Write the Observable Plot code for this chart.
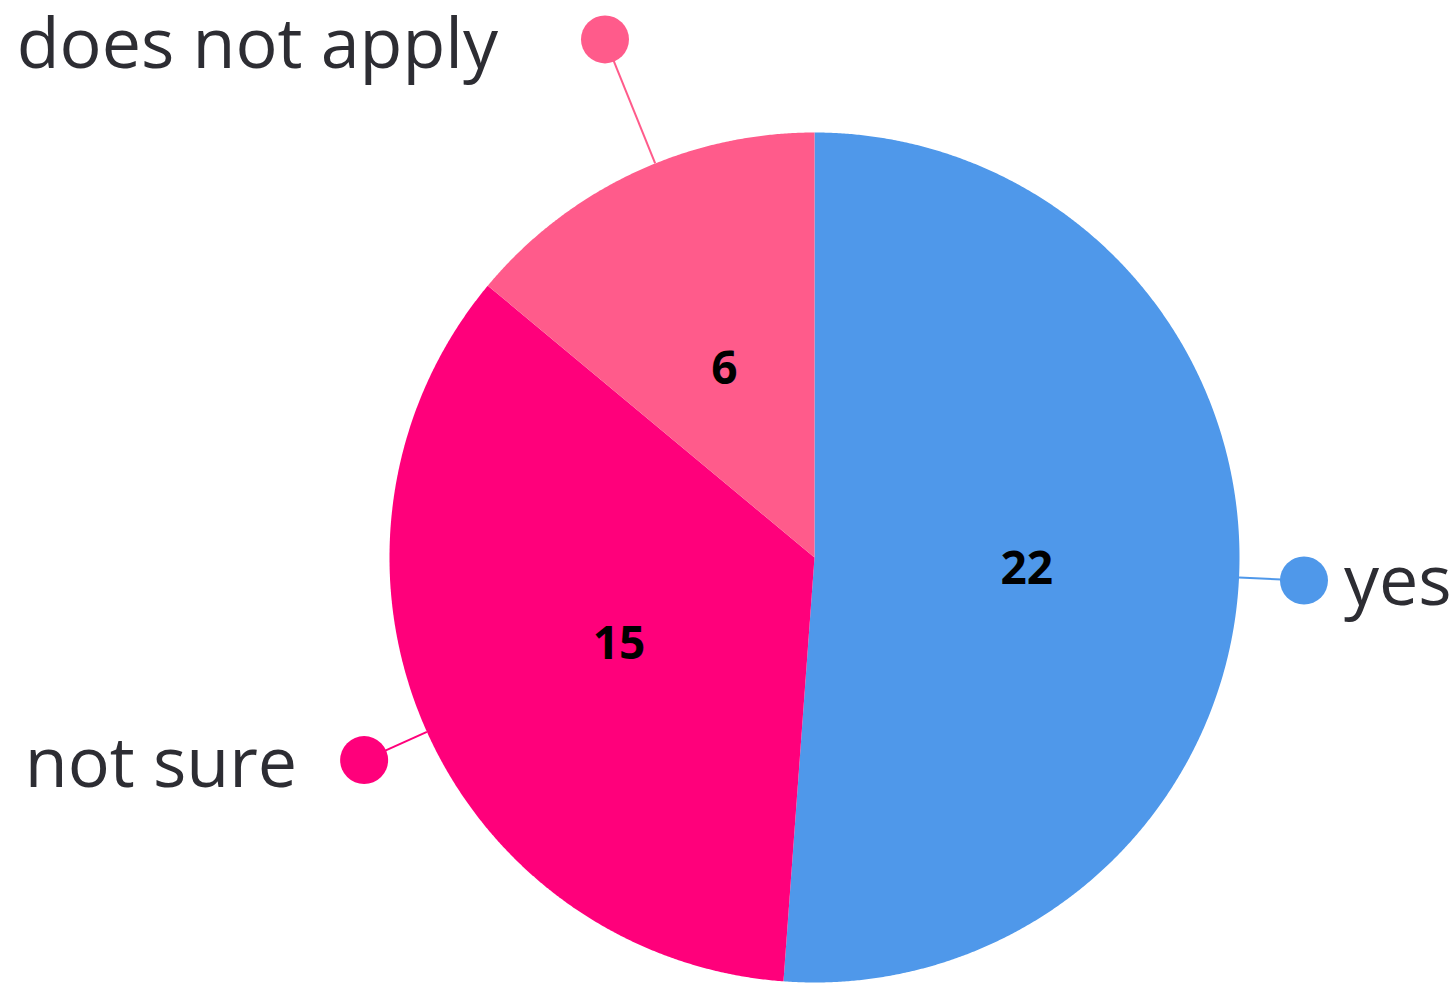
<!DOCTYPE html>
<html>
<head>
<meta charset="utf-8">
<script src="https://cdn.jsdelivr.net/npm/d3@7"></script>
<script src="https://cdn.jsdelivr.net/npm/@observablehq/plot@0.6"></script>
<style>
  html, body { margin: 0; padding: 0; background: #ffffff; }
  #chart svg { display: block; }
</style>
</head>
<body>
<div id="chart"></div>
<script>
// ---- data ----
const categories = ["yes", "not sure", "does not apply"];
const counts = [22, 15, 6];
const colors = ["#4f98ea", "#ff007b", "#ff5b8b"];

// ---- layout ----
const W = 1455, H = 990;
const cx = 814, cy = 557, R = 425;
// outer label placement (radial factor, angular nudge in degrees, text offsets)
const labelLayout = {
  "yes": {r: 1.153, da: 0.6, dx: 40, dy: 2, anchor: "start"},
  "not sure": {r: 1.162, da: -1.2, dx: -67, dy: 4, anchor: "end"},
  "does not apply": {r: 1.315, da: 3.1, dx: -107, dy: 6, anchor: "end"}
};

const data = categories.map((c, i) => ({label: c, value: counts[i]}));
const pie = d3.pie().sort(null).value(d => d.value).startAngle(0).endAngle(2 * Math.PI);
const arcs = pie(data);

// polygon outline of each slice (angle measured clockwise from 12 o'clock)
const pts = [];
for (const a of arcs) {
  pts.push({label: a.data.label, x: 0, y: 0});
  const n = Math.max(2, Math.ceil((a.endAngle - a.startAngle) / (Math.PI / 720)));
  for (let k = 0; k <= n; k++) {
    const t = a.startAngle + (a.endAngle - a.startAngle) * k / n;
    pts.push({label: a.data.label, x: Math.sin(t), y: Math.cos(t)});
  }
}

const mids = arcs.map(a => {
  const m = (a.startAngle + a.endAngle) / 2;
  const L = labelLayout[a.data.label];
  const t = m + L.da * Math.PI / 180;
  return {
    label: a.data.label, value: a.data.value,
    cxIn: Math.sin(m) * 0.5, cyIn: Math.cos(m) * 0.5,
    ex: Math.sin(t), ey: Math.cos(t),
    ox: Math.sin(t) * L.r, oy: Math.cos(t) * L.r,
    L
  };
});

const font = "'Open Sans', 'Noto Sans', sans-serif";

const textMarks = mids.map(d => Plot.text([d], {
  x: "ox", y: "oy", text: "label",
  textAnchor: d.L.anchor, dx: d.L.dx, dy: d.L.dy,
  fontSize: 70, fill: "#2d2d33", fontFamily: font, lineAnchor: "middle"
}));

const chart = Plot.plot({
  width: W, height: H,
  marginTop: 0, marginRight: 0, marginBottom: 0, marginLeft: 0,
  x: {domain: [-cx / R, (W - cx) / R], axis: null},
  y: {domain: [-(H - cy) / R, cy / R], axis: null},
  color: {domain: categories, range: colors},
  style: {background: "#ffffff", fontFamily: font},
  marks: [
    Plot.line(pts, {x: "x", y: "y", z: "label", fill: "label", stroke: null, curve: "linear"}),
    Plot.link(mids, {x1: "ex", y1: "ey", x2: "ox", y2: "oy", stroke: "label", strokeWidth: 2}),
    Plot.dot(mids, {x: "ox", y: "oy", r: 24, fill: "label", stroke: null}),
    Plot.text(mids, {x: "cxIn", y: "cyIn", text: d => String(d.value), fontSize: 46, fontWeight: "bold",
      fill: "#000000", fontFamily: font, lineAnchor: "middle", dy: 4}),
    ...textMarks
  ]
});

document.getElementById("chart").appendChild(chart);
</script>
</body>
</html>
